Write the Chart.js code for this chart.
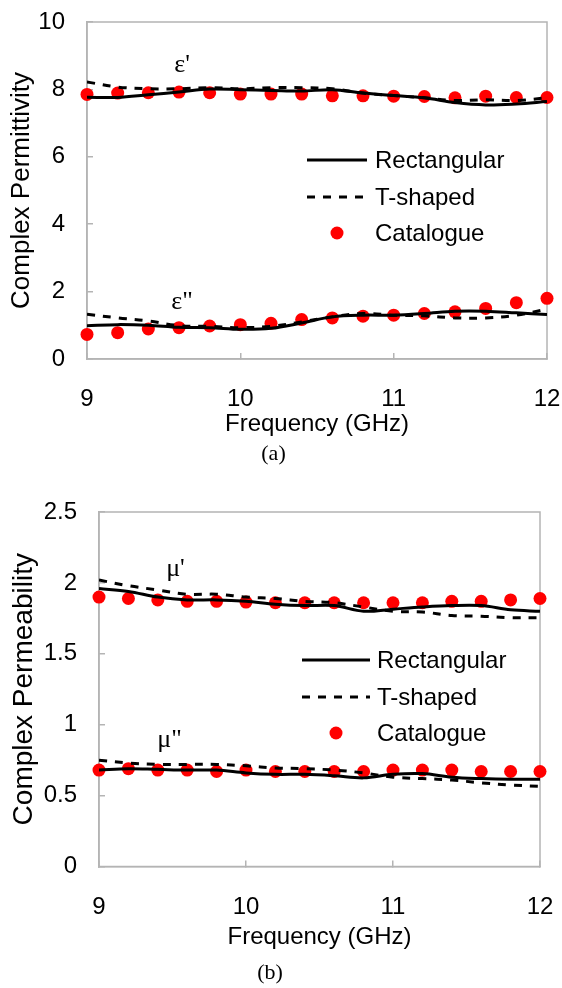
<!DOCTYPE html>
<html>
<head>
<meta charset="utf-8">
<script src="https://cdn.jsdelivr.net/npm/chart.js@4.4.1/dist/chart.umd.min.js"></script>
<style>
  body { margin: 0; background: #fff; }
  .box { position: absolute; left: 0; }
</style>
</head>
<body>
<div class="box" style="top:0px"><canvas id="chartA"></canvas></div>
<div class="box" style="top:490px"><canvas id="chartB"></canvas></div>
<script>
// frequency grid (GHz), shared by every series
var freq = [9, 9.2, 9.4, 9.6, 9.8, 10, 10.2, 10.4, 10.6, 10.8, 11, 11.2, 11.4, 11.6, 11.8, 12];

// (a) permittivity
var epsRealRect = [7.77, 7.76, 7.84, 7.92, 8.01, 7.99, 7.97, 7.95, 7.99, 7.89, 7.82, 7.75, 7.61, 7.54, 7.57, 7.64];
var epsRealT    = [8.22, 8.07, 8.02, 8.02, 8.05, 8.02, 8.05, 8.05, 8.02, 7.89, 7.82, 7.75, 7.67, 7.69, 7.67, 7.75];
var epsRealCat  = [7.85, 7.89, 7.90, 7.92, 7.90, 7.86, 7.86, 7.86, 7.81, 7.81, 7.80, 7.79, 7.75, 7.80, 7.76, 7.76];
var epsImagRect = [0.99, 1.02, 1.00, 0.94, 0.93, 0.88, 0.91, 1.07, 1.25, 1.30, 1.30, 1.35, 1.42, 1.42, 1.37, 1.32];
var epsImagT    = [1.33, 1.22, 1.13, 0.99, 0.97, 0.93, 0.97, 1.10, 1.25, 1.35, 1.30, 1.28, 1.22, 1.22, 1.30, 1.48];
var epsImagCat  = [0.73, 0.78, 0.89, 0.93, 0.98, 1.02, 1.06, 1.17, 1.22, 1.27, 1.30, 1.35, 1.40, 1.50, 1.67, 1.80];

// (b) permeability
var muRealRect = [1.96, 1.94, 1.90, 1.88, 1.88, 1.87, 1.85, 1.84, 1.84, 1.80, 1.815, 1.83, 1.84, 1.84, 1.81, 1.80];
var muRealT    = [2.02, 1.98, 1.95, 1.92, 1.92, 1.90, 1.89, 1.87, 1.86, 1.83, 1.80, 1.795, 1.77, 1.765, 1.755, 1.755];
var muRealCat  = [1.90, 1.89, 1.88, 1.87, 1.87, 1.865, 1.86, 1.86, 1.86, 1.86, 1.86, 1.86, 1.87, 1.87, 1.88, 1.89];
var muImagRect = [0.68, 0.69, 0.685, 0.68, 0.68, 0.66, 0.65, 0.65, 0.64, 0.625, 0.65, 0.655, 0.63, 0.62, 0.615, 0.615];
var muImagT    = [0.75, 0.73, 0.72, 0.72, 0.72, 0.71, 0.695, 0.69, 0.68, 0.66, 0.63, 0.62, 0.61, 0.59, 0.575, 0.565];
var muImagCat  = [0.68, 0.69, 0.68, 0.68, 0.67, 0.68, 0.67, 0.67, 0.67, 0.67, 0.68, 0.68, 0.68, 0.67, 0.67, 0.67];

var seriesNames = ['Rectangular', 'T-shaped', 'Catalogue'];

var grey = '#b4b4b4';
var sans = '"Liberation Sans", Arial, sans-serif';
var serif = '"Liberation Serif", "Times New Roman", serif';

function setCanvasSize(canvas, width, height) {
  canvas.width = width;
  canvas.height = height;
}

function toPoints(xs, ys) {
  return xs.map(function (x, i) { return { x: x, y: ys[i] }; });
}

function makeDatasets(rect, tee, cat) {
  return [
    { label: seriesNames[0], data: toPoints(freq, rect), borderColor: '#000', borderWidth: 3,
      pointRadius: 0, tension: 0.35, fill: false },
    { label: seriesNames[1], data: toPoints(freq, tee), borderColor: '#000', borderWidth: 3,
      borderDash: [8, 8], pointRadius: 0, tension: 0.35, fill: false },
    { label: seriesNames[2], data: toPoints(freq, cat), showLine: false, pointRadius: 6.5,
      pointBackgroundColor: '#ff0000', pointBorderWidth: 0, borderColor: '#ff0000', clip: false }
  ];
}

// grey box around the plot area
var frame = {
  id: 'frame',
  beforeDatasetsDraw: function (chart) {
    var a = chart.chartArea, ctx = chart.ctx;
    ctx.save();
    ctx.strokeStyle = grey;
    ctx.lineWidth = 1.5;
    ctx.strokeRect(a.left, a.top, a.right - a.left, a.bottom - a.top);
    ctx.restore();
  }
};

// legend drawn inside the plot area (first three datasets only)
var insideLegend = {
  id: 'insideLegend',
  afterDatasetsDraw: function (chart, args, opts) {
    var ctx = chart.ctx, a = chart.chartArea;
    ctx.save();
    ctx.font = '24px ' + sans;
    ctx.textBaseline = 'middle';
    chart.data.datasets.slice(0, 3).forEach(function (ds, i) {
      var y = a.top + opts.rows[i];
      var x0 = a.left + opts.x0, x1 = a.left + opts.x1;
      if (ds.showLine === false) {
        ctx.fillStyle = ds.pointBackgroundColor;
        ctx.beginPath();
        ctx.arc((x0 + x1) / 2, y, ds.pointRadius, 0, Math.PI * 2);
        ctx.fill();
      } else {
        ctx.strokeStyle = ds.borderColor;
        ctx.lineWidth = ds.borderWidth;
        ctx.setLineDash(ds.borderDash || []);
        ctx.beginPath();
        ctx.moveTo(x0, y);
        ctx.lineTo(x1, y);
        ctx.stroke();
        ctx.setLineDash([]);
      }
      ctx.fillStyle = '#000';
      ctx.fillText(ds.label, a.left + opts.tx, y + 1);
    });
    ctx.restore();
  }
};

// the ε', ε'', μ', μ'' tags, placed in data units
var partLabels = {
  id: 'partLabels',
  afterDatasetsDraw: function (chart, args, opts) {
    var ctx = chart.ctx, xs = chart.scales.x, ys = chart.scales.y;
    ctx.save();
    ctx.font = '26px ' + serif;
    ctx.fillStyle = '#000';
    ctx.textAlign = 'center';
    ctx.textBaseline = 'middle';
    opts.items.forEach(function (it) {
      ctx.fillText(it.text, xs.getPixelForValue(it.x), ys.getPixelForValue(it.y));
    });
    ctx.restore();
  }
};

function makeScales(o) {
  var tickFont = { family: sans, size: 24 };
  return {
    x: {
      type: 'linear', min: 9, max: 12,
      ticks: { stepSize: 1, padding: o.xPad, color: '#000', font: tickFont, maxRotation: 0 },
      grid: { drawOnChartArea: false, drawTicks: true, tickLength: -6, color: grey, lineWidth: 1.5 },
      border: { display: true, color: grey, width: 1.5 },
      title: { display: true, text: 'Frequency (GHz)', color: '#000', font: tickFont, padding: 0 },
      afterFit: function (s) {
        s.height = o.xHeight;
        // the big tick padding should not push the plot inwards
        s.paddingLeft = 0;
        s.paddingRight = 13;
      }
    },
    y: {
      min: o.yMin, max: o.yMax,
      ticks: { stepSize: o.yStep, padding: 28, color: '#000', font: tickFont,
        callback: function (v) { return String(v); } },
      grid: { drawOnChartArea: false, drawTicks: true, tickLength: -6, color: grey, lineWidth: 1.5 },
      border: { display: true, color: grey, width: 1.5 },
      title: { display: true, text: o.yTitle, color: '#000', font: { family: sans, size: o.yTitleSize },
        padding: { top: o.yTitlePad, bottom: 0 } },
      afterFit: function (s) {
        s.width = o.yWidth;
        s.paddingTop = 14;
        s.paddingBottom = 0;
      }
    }
  };
}

function makeChart(id, w, h, o) {
  var canvas = document.getElementById(id);
  setCanvasSize(canvas, w, h);
  return new Chart(canvas.getContext('2d'), {
    type: 'line',
    data: { datasets: o.datasets },
    options: {
      responsive: false,
      animation: false,
      layout: { padding: o.padding },
      scales: makeScales(o),
      plugins: {
        legend: { display: false },
        tooltip: { enabled: false },
        title: { display: true, position: 'bottom', text: o.caption, color: '#000',
          font: { family: serif, size: 22, weight: 'normal' }, padding: { top: o.capPad, bottom: 0 } },
        insideLegend: o.legend,
        partLabels: { items: o.tags }
      }
    },
    plugins: [frame, insideLegend, partLabels]
  });
}

makeChart('chartA', 562, 470, {
  datasets: makeDatasets(epsRealRect, epsRealT, epsRealCat)
    .concat(makeDatasets(epsImagRect, epsImagT, epsImagCat)),
  padding: { top: 22, right: 15, bottom: 2.6, left: 0 },
  xPad: 32, xHeight: 80, yWidth: 87,
  yMin: 0, yMax: 10, yStep: 2, yTitle: 'Complex Permittivity', yTitleSize: 26, yTitlePad: 6,
  caption: '(a)', capPad: 2,
  legend: { x0: 220, x1: 280, tx: 288, rows: [138, 175, 211] },
  tags: [{ text: '\u03b5\'', x: 9.62, y: 8.72 }, { text: '\u03b5"', x: 9.62, y: 1.7 }]
});

makeChart('chartB', 562, 498, {
  datasets: makeDatasets(muRealRect, muRealT, muRealCat)
    .concat(makeDatasets(muImagRect, muImagT, muImagCat)),
  padding: { top: 22, right: 22, bottom: 1.1, left: 0 },
  xPad: 32, xHeight: 85, yWidth: 99,
  yMin: 0, yMax: 2.5, yStep: 0.5, yTitle: 'Complex Permeability', yTitleSize: 28, yTitlePad: 7,
  caption: '(b)', capPad: 9,
  legend: { x0: 203, x1: 271, tx: 278, rows: [148, 185, 221] },
  tags: [{ text: '\u03bc\'', x: 9.52, y: 2.1 }, { text: '\u03bc"', x: 9.48, y: 0.89 }]
});
</script>
</body>
</html>
